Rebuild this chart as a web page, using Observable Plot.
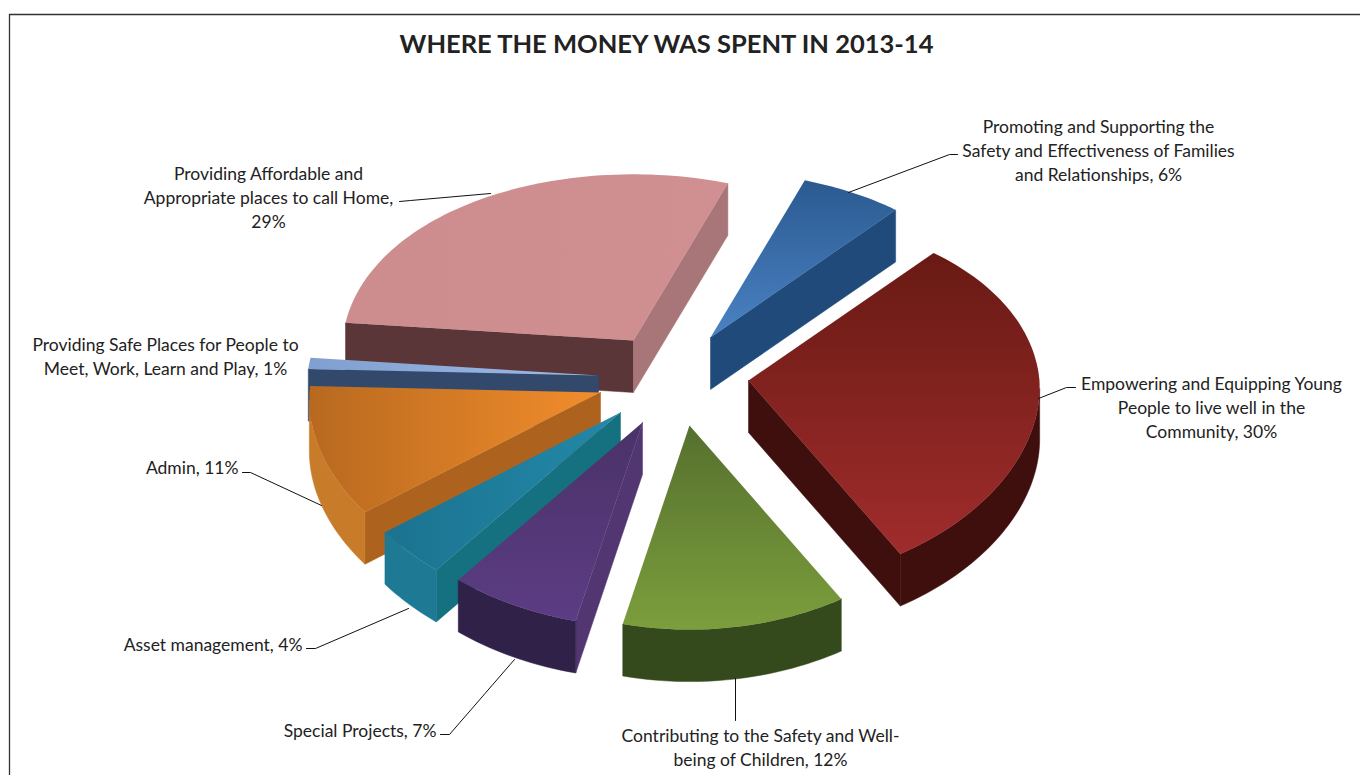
<!DOCTYPE html>
<html>
<head>
<meta charset="utf-8">
<script src="https://cdn.jsdelivr.net/npm/d3@7"></script>
<script src="https://cdn.jsdelivr.net/npm/@observablehq/plot@0.6"></script>
<style>
html,body{margin:0;padding:0;background:#fff}
svg{display:block}
</style>
</head>
<body>
<div id="chart"></div>
<script>
// ---- data (clockwise, starting from the slice after the top-left one)
const categories = [
  "Promoting and Supporting the\nSafety and Effectiveness of Families\nand Relationships",
  "Empowering and Equipping Young\nPeople to live well in the\nCommunity",
  "Contributing to the Safety and Well-\nbeing of Children",
  "Special Projects",
  "Asset management",
  "Admin",
  "Providing Safe Places for People to\nMeet, Work, Learn and Play",
  "Providing Affordable and\nAppropriate places to call Home"
];
const shares = [6, 30, 12, 7, 4, 11, 1, 29];
const valueBreak = [" ", " ", " ", " ", " ", " ", " ", "\n"];
const title = "WHERE THE MONEY WAS SPENT IN 2013-14";

// ---- styling: one entry per slice
const topFrom  = ["#2b5a90", "#691a14", "#55702e", "#4a3268", "#1a7390", "#b8691f", "#7f9fd0", "#cd8d8e"];
const topTo    = ["#4a82c4", "#a02c2c", "#7c9e3c", "#5c3c84", "#2488a8", "#f28d2c", "#a0bce6", "#d09092"];
const outerWall = ["#204c7e", "#3f0f0e", "#344a1c", "#2f2148", "#1e7a94", "#c87c2a", "#33496c", "#5a3638"];
const startWall = ["#204c7e", "#3f0f0e", "#344a1c", "#523672", "#15707f", "#ad631d", "#33496c", "#5a3638"];
const endWall   = ["#1f4a7a", "#3f0f0e", "#344a1c", "#523672", "#15707f", "#ad631d", "#33496c", "#a87678"];
const gradientAngle = [90, 90, 90, 90, 0, 0, 0, 0];
const explodeX = [60, 98, 39, -8, -30, -50, -52, -17];
const explodeY = [-38, 5, 50, 47, 37, 17, 0, -35];
const drawOrder = [7, 0, 1, 6, 5, 4, 3, 2];

// ---- label layout
const labelX = [1098, 1211, 760, 436, 302, 238, 165, 268];
const labelY = [149, 406, 746, 729, 643, 466, 355, 196];
const labelAnchor = ["middle", "middle", "middle", "end", "end", "end", "middle", "middle"];
const leaders = [
  [[848,192],[949,154],[957,154]],
  [[1038,398],[1066,387],[1075,387]],
  [[735,678],[735,720]],
  [[514,659],[449,734],[440,734]],
  [[408,608],[315,648],[306,648]],
  [[321,505],[250,472],[242,472]],
  [],
  [[490,193],[410,200],[399,201]]
];

// ---- pie geometry
const pie = {cx: 650, cy: 375, r: 291, depth: 52, startDeg: 20, tilt: 0.636, pyFar: 0.00039, pyNear: 0.00032, pxFar: 0.0002, pxNear: 0.00012, stepDeg: 1.5};
const FONT = "Lato";

function project(i, deg) {
  const a = deg * Math.PI / 180;
  const u = pie.r * Math.sin(a), v = pie.r * Math.cos(a);
  const px = v > 0 ? pie.pxFar : pie.pxNear, py = v > 0 ? pie.pyFar : pie.pyNear;
  return {
    x: pie.cx + explodeX[i] + u / (1 + px * v),
    y: pie.cy + explodeY[i] - pie.tilt * v / (1 + py * v)
  };
}
const total = d3.sum(shares);
let running = pie.startDeg;
const slices = shares.map((s, i) => {
  const a0 = running, a1 = running + s / total * 360;
  running = a1;
  const n = Math.max(2, Math.ceil((a1 - a0) / pie.stepDeg));
  const arc = d3.range(n + 1).map(k => project(i, a0 + (a1 - a0) * k / n));
  const apex = {x: pie.cx + explodeX[i], y: pie.cy + explodeY[i]};
  return {i, apex, arc};
});
const down = p => ({x: p.x, y: p.y + pie.depth});

const polygonMark = (pts, fill) => Plot.line([...pts, pts[0]], {
  x: "x", y: "y", fill, stroke: fill.startsWith("url") ? "none" : fill, strokeWidth: 0.5
});
const sliceMarks = [];
for (const idx of drawOrder) {
  const {i, apex, arc} = slices[idx];
  const first = arc[0], last = arc[arc.length - 1];
  // walls that face the viewer: start edge heading left, end edge heading right
  if (first.x < apex.x) sliceMarks.push(polygonMark([apex, first, down(first), down(apex)], startWall[i]));
  if (last.x > apex.x) sliceMarks.push(polygonMark([apex, last, down(last), down(apex)], endWall[i]));
  const front = arc.filter((p, k) => (k > 0 && p.x < arc[k - 1].x) || (k < arc.length - 1 && arc[k + 1].x < p.x));
  if (front.length > 1) sliceMarks.push(polygonMark([...front, ...front.slice().reverse().map(down)], outerWall[i]));
  sliceMarks.push(polygonMark([apex, ...arc], `url(#top${i})`));
}

const gradients = () => {
  const defs = d3.create("svg:defs");
  shares.forEach((_, i) => {
    const vertical = gradientAngle[i] === 90;
    const g = defs.append("linearGradient").attr("id", `top${i}`)
      .attr("x1", 0).attr("y1", 0).attr("x2", vertical ? 0 : 1).attr("y2", vertical ? 1 : 0);
    g.append("stop").attr("offset", "0%").attr("stop-color", topFrom[i]);
    g.append("stop").attr("offset", "100%").attr("stop-color", topTo[i]);
  });
  return defs.node();
};

const labels = categories.map((c, i) => ({
  text: `${c},${valueBreak[i]}${shares[i]}%`, x: labelX[i], y: labelY[i], anchor: labelAnchor[i]
}));
const leaderRows = leaders.flatMap((l, i) => l.map(([x, y]) => ({x, y, i})));

const chart = Plot.plot({
  width: 1360, height: 775, margin: 0,
  x: {domain: [0, 1360], range: [0, 1360], axis: null},
  y: {domain: [0, 775], range: [0, 775], axis: null},
  style: {background: "#fff", color: "#222"},
  marks: [
    gradients,
    Plot.ruleY([14], {x1: 9, x2: 1360, stroke: "#333", strokeWidth: 1.3}),
    Plot.ruleX([9], {y1: 14, y2: 775, stroke: "#333", strokeWidth: 1.3}),
    ...sliceMarks,
    Plot.line(leaderRows, {x: "x", y: "y", z: "i", stroke: "#111", strokeWidth: 1}),
    ...["middle", "end"].map(anchor => Plot.text(labels.filter(d => d.anchor === anchor), {
      x: "x", y: "y", text: "text", textAnchor: anchor, lineHeight: 1.36,
      fontSize: 17.5, fontFamily: FONT, fill: "#222"
    })),
    Plot.text([title], {x: () => 666, y: () => 44, text: d => d, fontSize: 25.5, fontWeight: "bold", fontFamily: FONT, fill: "#222"})
  ]
});
document.getElementById("chart").append(chart);
</script>
</body>
</html>
